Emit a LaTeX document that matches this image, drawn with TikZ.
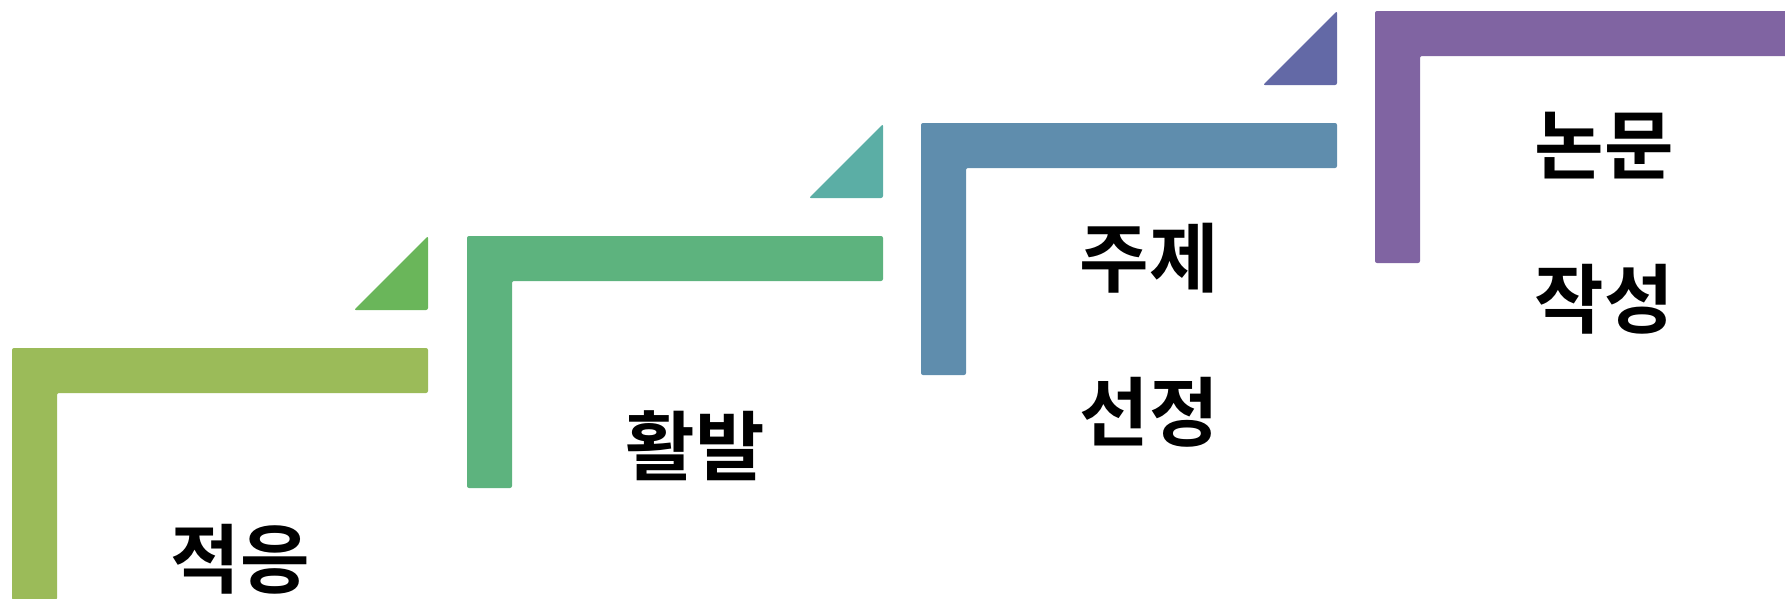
\documentclass[tikz,border=0pt]{standalone}
\usepackage{fontspec}
\newfontfamily\krfont{Noto Sans CJK KR}[BoldFont={Noto Sans CJK KR Bold}]
\definecolor{barA}{HTML}{9BBB59}
\definecolor{barB}{HTML}{5DB37E}
\definecolor{barC}{HTML}{5F8DAD}
\definecolor{barD}{HTML}{8064A2}
\definecolor{flagA}{HTML}{6AB65A}
\definecolor{flagB}{HTML}{5BAEA5}
\definecolor{flagC}{HTML}{6369A6}
\tikzset{
  stairbar/.style={fill=#1, draw=none, rounded corners=0.4mm},
  stairflag/.style={fill=#1, draw=none, rounded corners=0.4mm},
  stairlabel/.style={font=\krfont\bfseries\fontsize{43}{87.6}\selectfont, align=center, inner sep=0pt},
}
\begin{document}
\begin{tikzpicture}[x=0.2mm, y=-0.2mm]
        \useasboundingbox (0,0) rectangle (1785,598);
        % bar width, bar length, bar height
        \def\bw{45}
        \def\bl{416}
        \def\bh{252}

        % ===== Step 1 =====
        \def\xA{12} \def\yA{348}
        \fill[stairbar=barA] (\xA,\yA+\bh) -- (\xA,\yA) -- (\xA+\bl,\yA) -- (\xA+\bl,\yA+\bw)
            -- (\xA+\bw,\yA+\bw) -- (\xA+\bw,\yA+\bh) -- cycle;
        \fill[stairflag=flagA] (\xA+\bl,\yA-38) -- (\xA+\bl-74,\yA-38) -- (\xA+\bl,\yA-112) -- cycle;
        \node[stairlabel] (lblA) at (\xA+228,\yA+211) {적응};

        % ===== Step 2 =====
        \def\xB{467} \def\yB{236}
        \fill[stairbar=barB] (\xB,\yB+\bh) -- (\xB,\yB) -- (\xB+\bl,\yB) -- (\xB+\bl,\yB+\bw)
            -- (\xB+\bw,\yB+\bw) -- (\xB+\bw,\yB+\bh) -- cycle;
        \fill[stairflag=flagB] (\xB+\bl,\yB-38) -- (\xB+\bl-74,\yB-38) -- (\xB+\bl,\yB-112) -- cycle;
        \node[stairlabel] (lblB) at (\xB+228,\yB+210) {활발};

        % ===== Step 3 =====
        \def\xC{921} \def\yC{123}
        \fill[stairbar=barC] (\xC,\yC+\bh) -- (\xC,\yC) -- (\xC+\bl,\yC) -- (\xC+\bl,\yC+\bw)
            -- (\xC+\bw,\yC+\bw) -- (\xC+\bw,\yC+\bh) -- cycle;
        \fill[stairflag=flagC] (\xC+\bl,\yC-38) -- (\xC+\bl-74,\yC-38) -- (\xC+\bl,\yC-112) -- cycle;
        \node[stairlabel] (lblC) at (\xC+228,\yC+212) {주제\\선정};

        % ===== Step 4 =====
        \def\xD{1375} \def\yD{11}
        \fill[stairbar=barD] (\xD,\yD+\bh) -- (\xD,\yD) -- (\xD+\bl,\yD) -- (\xD+\bl,\yD+\bw)
            -- (\xD+\bw,\yD+\bw) -- (\xD+\bw,\yD+\bh) -- cycle;
        \node[stairlabel] (lblD) at (\xD+229,\yD+212) {논문\\작성};
    \end{tikzpicture}
\end{document}
